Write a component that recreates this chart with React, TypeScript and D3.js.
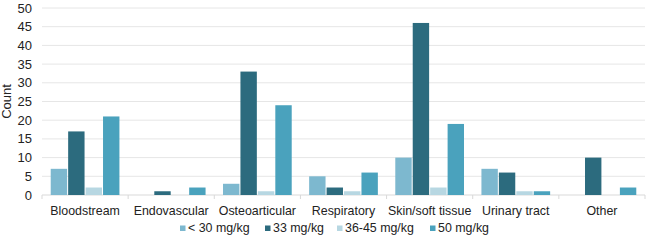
import React from 'react';
import * as d3 from 'd3';

const width = 650;
const height = 240;

const margin = { top: 8, right: 5, bottom: 45, left: 42 };

// categories and series
const categories = ['Bloodstream', 'Endovascular', 'Osteoarticular', 'Respiratory', 'Skin/soft tissue', 'Urinary tract', 'Other'];
const seriesNames = ['< 30 mg/kg', '33 mg/kg', '36-45 mg/kg', '50 mg/kg'];
const below30 = [7, 0, 3, 5, 10, 7, 0];
const dose33 = [17, 1, 33, 2, 46, 6, 10];
const dose36to45 = [2, 0, 1, 1, 2, 1, 0];
const dose50 = [21, 2, 24, 6, 19, 1, 2];
const yTicks = [0, 5, 10, 15, 20, 25, 30, 35, 40, 45, 50];

const colors = ['#7db8cf', '#2c6b7e', '#b7d7e2', '#4aa2bd'];
const legendX = [180, 265, 337, 430];

const App = () => {
  const series = [below30, dose33, dose36to45, dose50];
  const font = '"Liberation Sans", Arial, sans-serif';
  const fs = 12.4;

  const xScale = d3.scaleBand()
    .domain(categories)
    .range([margin.left, width - margin.right])
    .paddingInner(0)
    .paddingOuter(0);

  const inner = d3.scaleBand()
    .domain(seriesNames)
    .range([0, xScale.bandwidth()])
    .paddingInner(0.06)
    .paddingOuter(0.5);

  const yScale = d3.scaleLinear()
    .domain([0, 50])
    .range([height - margin.bottom, margin.top]);

  const baseY = yScale(0);

  return (
    <svg width={width} height={height} style={{ position: 'absolute', left: 0, top: 0, background: '#fff' }} fontFamily={font}>
      {yTicks.map(t => (
        <g key={t}>
          {t > 0 && (
            <line x1={margin.left} x2={width - margin.right} y1={yScale(t)} y2={yScale(t)} stroke="#e6e6e6" strokeWidth={1} />
          )}
          <text x={32} y={yScale(t)} dy="0.35em" textAnchor="end" fontSize={13} fill="#222">{t}</text>
        </g>
      ))}
      <line x1={margin.left} x2={width - margin.right} y1={baseY} y2={baseY} stroke="#d9d9d9" />
      {categories.map((c, i) => (
        <line key={'tk' + i} x1={xScale(c)} x2={xScale(c)} y1={baseY} y2={baseY + 4} stroke="#d9d9d9" />
      ))}
      <line x1={width - margin.right} x2={width - margin.right} y1={baseY} y2={baseY + 4} stroke="#d9d9d9" />
      <text transform={`translate(11, ${(margin.top + baseY) / 2}) rotate(-90)`} textAnchor="middle" fontSize={13} fill="#222">Count</text>

      {categories.map((c, i) => (
        <g key={c}>
          {series.map((s, j) => (
            s[i] > 0 ? (
              <rect
                key={j}
                x={(xScale(c) as number) + (inner(seriesNames[j]) as number)}
                y={yScale(s[i])}
                width={inner.bandwidth()}
                height={baseY - yScale(s[i])}
                fill={colors[j]}
              />
            ) : null
          ))}
          <text x={(xScale(c) as number) + xScale.bandwidth() / 2} y={215} textAnchor="middle" fontSize={fs} fill="#222">{c}</text>
        </g>
      ))}

      {seriesNames.map((n, j) => (
        <g key={n}>
          <rect x={legendX[j]} y={225.5} width={5.5} height={5.5} fill={colors[j]} />
          <text x={legendX[j] + 8} y={228} dy="0.35em" fontSize={fs} fill="#222">{n}</text>
        </g>
      ))}
    </svg>
  );
};

export default App;
